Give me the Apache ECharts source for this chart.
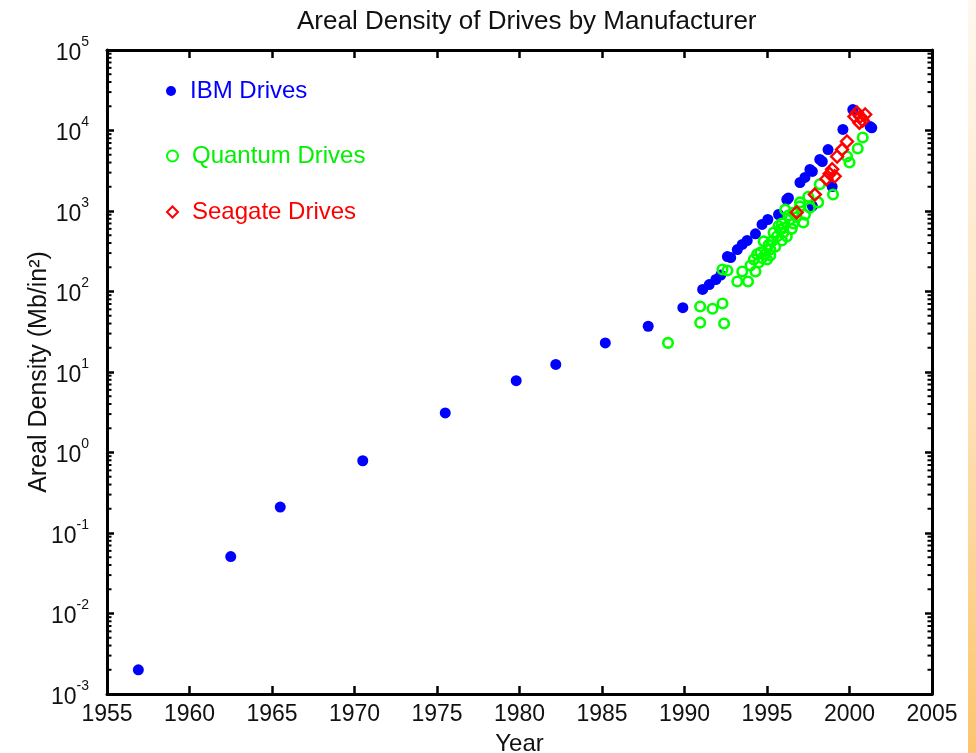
<!DOCTYPE html>
<html><head><meta charset="utf-8">
<script src="https://cdn.jsdelivr.net/npm/echarts@6/dist/echarts.min.js"></script>
<style>html,body{margin:0;padding:0;background:#fff}#c{width:976px;height:753px}</style>
</head><body><div id="c"></div>
<script>
// ---- data ----
const ibmYears = [1956.9, 1962.5, 1965.5, 1970.5, 1975.5, 1979.8, 1982.2, 1985.2, 1987.8, 1989.9,
  1991.1, 1991.5, 1991.9, 1992.2, 1992.6, 1992.8, 1993.2, 1993.5, 1993.8, 1994.3, 1994.7, 1995.05,
  1995.7, 1996.2, 1996.3, 1997.0, 1997.3, 1997.6, 1997.75, 1997.75, 1998.2, 1998.35, 1998.7, 1998.95,
  1999.6, 2000.2, 2001.25, 2001.35];
const ibmValues = [0.002, 0.051, 0.21, 0.79, 3.1, 7.8, 12.4, 23, 37, 63,
  106, 122, 141, 160, 272, 264, 332, 384, 430, 520, 680, 784,
  905, 1390, 1450, 2260, 2610, 3280, 3100, 1150, 4370, 4120, 5800, 2010,
  10300, 18200, 11200, 10800];

const quantumYears = [1989.0, 1990.95, 1990.95, 1991.7, 1992.3, 1992.4, 1992.3, 1992.6, 1993.2, 1993.5,
  1993.85, 1994.2, 1994.3, 1994.5, 1994.6, 1994.8, 1994.9, 1995.0, 1995.1, 1995.2, 1995.3, 1995.4,
  1995.6, 1995.7, 1995.8, 1995.9, 1996.0, 1996.1, 1996.2, 1996.3, 1996.4, 1996.6, 1996.6, 1997.0,
  1997.0, 1997.2, 1997.5, 1998.1, 1998.2, 1999.0, 1999.85, 2000.0, 2000.5, 2000.8,
  1994.0, 1994.4, 1994.7, 1995.2, 1995.5, 1995.9, 1996.0, 1996.5, 1996.8, 1997.3, 1997.6];
const quantumValues = [23, 65, 41, 61, 71, 40, 188, 182, 133, 177,
  133, 250, 177, 230, 305, 420, 290, 250, 380, 332, 420, 540,
  482, 650, 589, 700, 620, 1040, 482, 880, 784, 700, 950, 1140,
  1280, 720, 1500, 1280, 2150, 1600, 4750, 4000, 5970, 8200,
  210, 290, 260, 280, 360, 430, 540, 600, 840, 900, 1100];

const seagateYears = [1996.8, 1997.9, 1998.6, 1998.8, 1998.95, 1999.1, 1999.25, 1999.55, 1999.85,
  2000.3, 2000.45, 2000.6, 2000.65, 2000.8, 2000.95];
const seagateValues = [960, 1600, 2500, 2900, 3300, 2700, 4750, 5800, 7300,
  14900, 16700, 12500, 14900, 13300, 15800];

const seriesNames = ['IBM Drives', 'Quantum Drives', 'Seagate Drives'];
const titleText = 'Areal Density of Drives by Manufacturer';
const xName = 'Year';
const yName = 'Areal Density (Mb/in²)';
const xMin = 1955, xMax = 2005, xStep = 5;
const yExpMin = -3, yExpMax = 5;

// ---- helpers ----
const zip = (xs, ys) => xs.map((x, i) => [x, ys[i]]);
const minorTickValues = [];
for (let e = yExpMin; e < yExpMax; e++) {
  for (let m = 2; m <= 9; m++) minorTickValues.push([xMin, m * Math.pow(10, e)]);
}

const FONT = "'Liberation Sans', Arial, Helvetica, sans-serif";
const INK = '#111';
const AXW = 3;

const chart = echarts.init(document.getElementById('c'), null, {renderer: 'canvas'});

const yLabelFmt = v => {
  const e = Math.round(Math.log10(v));
  return '{b|10}{e|' + e + '}';
};

const legendBase = (name, top, color, size) => ({
  data: [name], left: 166, top: top, padding: 0, itemWidth: size, itemHeight: size,
  textStyle: {color: color, fontFamily: FONT, fontSize: 24, padding: [0, 0, 0, 9]}
});

const option = {
  backgroundColor: '#ffffff',
  animation: false,
  title: {
    text: titleText, left: 292, top: 4,
    textStyle: {fontFamily: FONT, fontSize: 26, fontWeight: 'normal', color: INK}
  },
  grid: {left: 107, right: 44, top: 50, bottom: 59, outerBoundsMode: 'none', containLabel: false},
  legend: [
    legendBase(seriesNames[0], 79, '#0000ff', 10),
    legendBase(seriesNames[1], 144, '#00f000', 11),
    legendBase(seriesNames[2], 200, '#ff0000', 11)
  ],
  xAxis: [
    {type: 'value', min: xMin, max: xMax, interval: xStep, position: 'bottom',
     name: xName, nameLocation: 'middle', nameGap: 38, nameMoveOverlap: false,
     nameTextStyle: {fontFamily: FONT, fontSize: 24, color: INK},
     axisLine: {show: true, lineStyle: {color: '#000', width: AXW}},
     axisTick: {show: true, inside: true, length: 8, lineStyle: {color: '#000', width: 2.5}},
     axisLabel: {fontFamily: FONT, fontSize: 23, color: INK, margin: 9, formatter: v => String(v)},
     splitLine: {show: false}},
    {type: 'value', min: xMin, max: xMax, interval: xStep, position: 'top',
     axisLine: {show: true, lineStyle: {color: '#000', width: AXW}},
     axisTick: {show: true, inside: true, length: 8, lineStyle: {color: '#000', width: 2.5}},
     axisLabel: {show: false}, splitLine: {show: false}}
  ],
  yAxis: [
    {type: 'log', logBase: 10, min: Math.pow(10, yExpMin), max: Math.pow(10, yExpMax), splitNumber: 8,
     position: 'left', name: yName, nameLocation: 'middle', nameGap: 55, nameMoveOverlap: false,
     nameTextStyle: {fontFamily: FONT, fontSize: 25, color: INK},
     axisLine: {show: true, lineStyle: {color: '#000', width: AXW}},
     axisTick: {show: true, inside: true, length: 7, lineStyle: {color: '#000', width: 2.5}},
     axisLabel: {margin: 18, formatter: yLabelFmt,
       rich: {b: {fontFamily: FONT, fontSize: 23, color: INK, verticalAlign: 'bottom'},
              e: {fontFamily: FONT, fontSize: 14, color: INK, verticalAlign: 'bottom', padding: [0, 0, 16, 0]}}},
     splitLine: {show: false}},
    {type: 'log', logBase: 10, min: Math.pow(10, yExpMin), max: Math.pow(10, yExpMax), splitNumber: 8,
     position: 'right',
     axisLine: {show: true, lineStyle: {color: '#000', width: AXW}},
     axisTick: {show: true, inside: true, length: 7, lineStyle: {color: '#000', width: 2.5}},
     axisLabel: {show: false}, splitLine: {show: false}}
  ],
  series: [
    {name: seriesNames[0], type: 'scatter', xAxisIndex: 0, yAxisIndex: 0,
     symbol: 'circle', symbolSize: 11, data: zip(ibmYears, ibmValues),
     itemStyle: {color: '#0000ff', opacity: 1}},
    {name: seriesNames[1], type: 'scatter', xAxisIndex: 0, yAxisIndex: 0,
     symbol: 'circle', symbolSize: 9.5, data: zip(quantumYears, quantumValues),
     itemStyle: {color: 'rgba(0,0,0,0)', borderColor: '#00ff00', borderWidth: 2.6, opacity: 1}},
    {name: seriesNames[2], type: 'scatter', xAxisIndex: 0, yAxisIndex: 0,
     symbol: 'diamond', symbolSize: 12, data: zip(seagateYears, seagateValues),
     itemStyle: {color: 'rgba(0,0,0,0)', borderColor: '#ff0000', borderWidth: 2.4, opacity: 1}},
    {name: 'minorTicks', type: 'custom', xAxisIndex: 0, yAxisIndex: 0, silent: true, clip: false,
     data: minorTickValues, z: 5,
     renderItem: (params, api) => {
       const v = api.value(1);
       const pL = api.coord([xMin, v]);
       const pR = api.coord([xMax, v]);
       return {type: 'group', children: [
         {type: 'line', shape: {x1: pL[0], y1: pL[1], x2: pL[0] + 4.5, y2: pL[1]}, style: {stroke: '#000', lineWidth: 2}},
         {type: 'line', shape: {x1: pR[0] - 4.5, y1: pR[1], x2: pR[0], y2: pR[1]}, style: {stroke: '#000', lineWidth: 2}}
       ]};
     }}
  ],
  graphic: [
    {type: 'rect', left: 968, top: 0, shape: {width: 8, height: 753}, silent: true,
     style: {fill: new echarts.graphic.LinearGradient(0, 0, 0, 1, [
       {offset: 0, color: '#fff8ef'}, {offset: 0.5, color: '#fde3bd'}, {offset: 1, color: '#fcc56c'}])}}
  ]
};
chart.setOption(option);
</script>
</body></html>
